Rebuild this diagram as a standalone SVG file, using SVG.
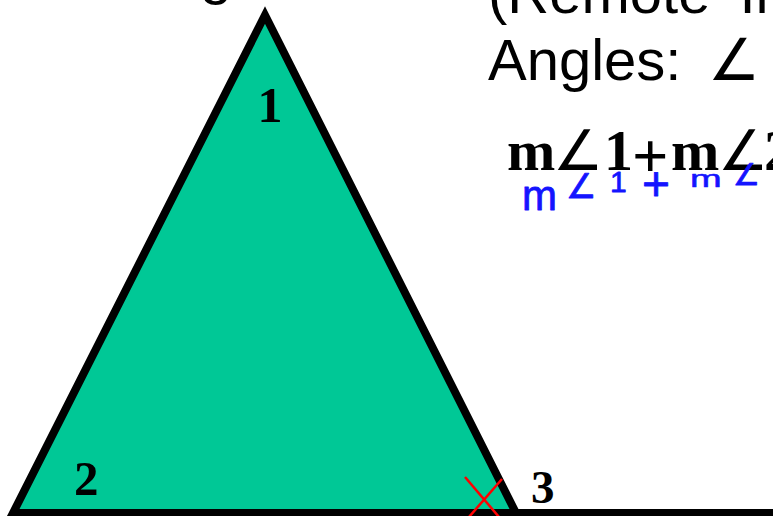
<svg xmlns="http://www.w3.org/2000/svg" width="773" height="516" viewBox="0 0 773 516">
<style>
.sans{font-family:"Liberation Sans",Arial,sans-serif;fill:#000}
.num{font-family:"Liberation Serif","Times New Roman",serif;font-weight:bold;fill:#000}
.ang{font-family:"DejaVu Sans",sans-serif;font-weight:normal}
.ink{font-family:"Liberation Sans",Arial,sans-serif;fill:#1414ff;stroke:#1414ff;stroke-width:0.8;stroke-linejoin:round}
</style>
<rect width="773" height="516" fill="#fff"/>
<g id="triangle">
<polygon points="265,15 13,513 516,513" fill="#00c896" stroke="#000" stroke-width="8" stroke-linejoin="miter" stroke-miterlimit="10"/>
</g>
<g id="connectors">
<line x1="516" y1="513" x2="773" y2="513" stroke="#000" stroke-width="8"/>
</g>
<g id="marks">
<line x1="465" y1="477" x2="499" y2="517" stroke="#ff0000" stroke-width="2.5"/>
<line x1="502" y1="479" x2="469" y2="517" stroke="#ff0000" stroke-width="2.5"/>
</g>
<g id="labels">
<text class="num" x="270" y="122" font-size="50" text-anchor="middle">1</text>
<text class="num" x="74" y="495" font-size="49">2</text>
<text class="num" x="531" y="503" font-size="47">3</text>
</g>
<g id="text">
<text class="sans" x="200" y="-7" font-size="58">g</text>
<text class="sans" x="488" y="13" font-size="58">(Remote<tspan x="739.5">In</tspan></text>
<text class="sans" x="488" y="80" font-size="58">Angles: <tspan class="ang" x="708">∠</tspan></text>
<text class="num" y="170" font-size="58"><tspan x="507">m</tspan><tspan class="ang" x="553" font-size="56">∠</tspan><tspan x="604">1</tspan><tspan x="632" y="177" font-size="64">+</tspan><tspan x="671" y="170" font-size="58">m</tspan><tspan class="ang" x="718" font-size="56">∠</tspan><tspan x="764">2</tspan></text>
</g>
<g id="handwriting">
<text class="ink" x="522" y="210" font-size="42">m</text>
<text class="ink ang" x="566" y="198" font-size="34">∠</text>
<text class="ink" x="610" y="192" font-size="30">1</text>
<text class="ink" x="642" y="200" font-size="48">+</text>
<text class="ink" transform="translate(690,187) scale(1,0.62)" font-size="38">m</text>
<text class="ink ang" x="733" y="185" font-size="30">∠</text>
</g>
</svg>
